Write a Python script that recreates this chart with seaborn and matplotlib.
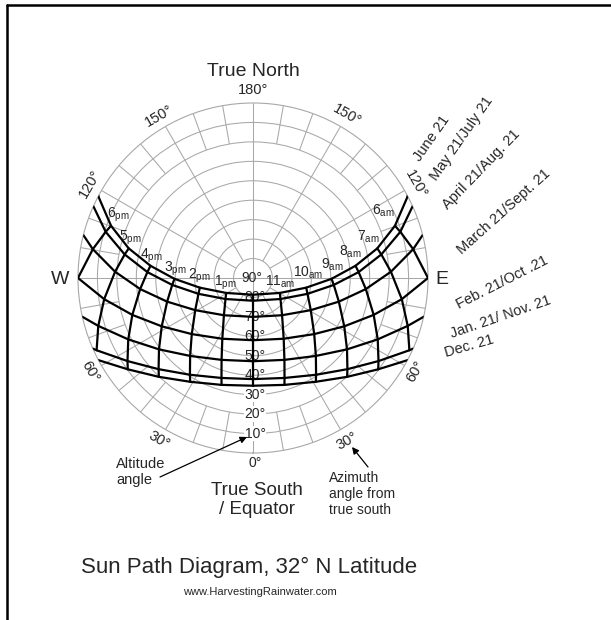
import matplotlib
matplotlib.use("Agg")
import matplotlib.pyplot as plt
from matplotlib.lines import Line2D
import numpy as np
import seaborn as sns

# Sun positions at 32 deg N latitude, solar time, morning half of each day.
# The afternoon is the mirror image on the west side.
# azimuth = degrees east of true south, altitude = degrees above horizon
hours = [12, 11, 10, 9, 8, 7, 6, 5]

date_labels = ["June 21", "May 21/July 21", "April 21/Aug. 21",
               "March 21/Sept. 21", "Feb. 21/Oct .21", "Jan. 21/ Nov. 21",
               "Dec. 21"]

nan = np.nan
az_jun = [0, 60.9, 79.7, 89.4, 96.8, 103.4, 110.2, 117.6]
alt_jun = [81.4, 74.2, 62.2, 49.6, 36.9, 24.3, 12.2, 0.5]
az_may = [0, 52.6, 73.8, 85.1, 93.2, 100.4, 107.4, nan]
alt_may = [78.3, 72.2, 60.8, 48.3, 35.6, 22.9, 10.6, nan]
az_apr = [0, 38.0, 60.9, 74.6, 84.4, 92.6, 100.2, nan]
alt_apr = [70.0, 65.7, 56.0, 44.2, 31.7, 19.0, 6.3, nan]
az_mar = [0, 26.8, 47.5, 62.1, 73.0, 81.9, 90.0, nan]
alt_mar = [58.0, 55.0, 47.3, 36.9, 25.1, 12.7, 0.0, nan]
az_feb = [0, 21.0, 38.9, 52.8, 63.8, 72.8, nan, nan]
alt_feb = [47.2, 44.9, 38.5, 29.3, 18.5, 6.7, nan, nan]
az_jan = [0, 17.5, 33.1, 46.0, 56.5, 65.2, nan, nan]
alt_jan = [38.0, 36.1, 30.6, 22.5, 12.6, 1.4, nan, nan]
az_dec = [0, 16.4, 31.2, 43.6, 53.9, nan, nan, nan]
alt_dec = [34.6, 32.7, 27.6, 19.8, 10.3, nan, nan, nan]

# sunrise azimuth (altitude 0) for each date
sunrise_az = [118.0, 114.2, 104.2, 90.0, 77.2, 66.2, 62.0]

alt_ticks = [90, 80, 70, 60, 50, 40, 30, 20, 10, 0]
az_ticks = [180, 150, 120, 60, 30]

W, H = 611, 620
GRAY = "#a8a8a8"

sns.set_style("white")
plt.rcParams["font.family"] = ["Liberation Sans", "DejaVu Sans"]
plt.rcParams["mathtext.fontset"] = "custom"
plt.rcParams["mathtext.rm"] = "Liberation Sans"
plt.rcParams["mathtext.it"] = "Liberation Sans:italic"
plt.rcParams["mathtext.bf"] = "Liberation Sans:bold"


def fpos(x, y):
    # pixel position (from top-left) -> figure fraction
    return x / W, 1 - y / H


fig = plt.figure(figsize=(W / 100, H / 100), dpi=100)
cx, cy, R = 253, 278, 175
ax = fig.add_axes([(cx - R) / W, (H - cy - R) / H, 2 * R / W, 2 * R / H],
                  projection="polar")
ax.set_theta_zero_location("S")
ax.set_theta_direction(1)

# grey altitude rings and azimuth spokes
ax.set_axisbelow(True)
ax.set_xticks([])
ax.set_yticks(range(10, 90, 10))
ax.set_yticklabels([])
ax.yaxis.grid(True, color=GRAY, lw=0.75)
ax.spines["polar"].set_color(GRAY)
ax.spines["polar"].set_linewidth(0.8)
spokes = np.arange(0, 360, 10)
r0 = np.where(spokes % 90 == 0, 0, np.where(spokes % 30 == 0, 10, 70))
ax.vlines(np.radians(spokes), r0, 90, color=GRAY, lw=0.75, zorder=1)

# sun path for each date, sunrise -> noon -> sunset
az_all = np.array([az_jun, az_may, az_apr, az_mar, az_feb, az_jan, az_dec])
alt_all = np.array([alt_jun, alt_may, alt_apr, alt_mar, alt_feb, alt_jan,
                    alt_dec])
for az, alt, rise in zip(az_all, alt_all, sunrise_az):
    ok = ~np.isnan(az)
    a_m = np.r_[rise, az[ok][::-1]]
    h_m = np.r_[0.0, alt[ok][::-1]]
    a = np.r_[a_m, -a_m[::-1][1:]]
    h = np.r_[h_m, h_m[::-1][1:]]
    sns.lineplot(x=np.radians(a), y=90 - h, sort=False, estimator=None,
                 color="black", lw=1.6, ax=ax, zorder=4)

# hour lines across the dates
for j in range(7):
    ok = ~np.isnan(az_all[:, j])
    for side in ((1, -1) if j else (1,)):
        sns.lineplot(x=np.radians(side * az_all[ok, j]), y=90 - alt_all[ok, j],
                     sort=False, estimator=None, color="black", lw=1.6,
                     ax=ax, zorder=4)

ax.set_ylim(0, 90)

# hour labels above the June 21 path (offsets in pixels, y down)
am_off = {11: (0, -11), 10: (2, -15), 9: (1, -14), 8: (-5, -14),
          7: (-9, -12), 6: (-12, -15)}
pm_off = {1: (-1, -10), 2: (0, -12), 3: (1, -10), 4: (1, -10),
          5: (2, -11), 6: (7, -11)}
for j in range(1, 7):
    hr = hours[j]
    dx, dy = am_off[hr]
    ax.annotate(f"{hr}" + r"$_{\mathrm{am}}$",
                xy=(np.radians(az_all[0, j]), 90 - alt_all[0, j]),
                xytext=(dx * 0.72, -dy * 0.72), textcoords="offset points",
                ha="center", va="center", fontsize=10, zorder=5)
    ph = 12 - hr
    dx, dy = pm_off[ph]
    ax.annotate(f"{ph}" + r"$_{\mathrm{pm}}$",
                xy=(np.radians(-az_all[0, j]), 90 - alt_all[0, j]),
                xytext=(dx * 0.72, -dy * 0.72), textcoords="offset points",
                ha="center", va="center", fontsize=10, zorder=5)

# altitude labels along the south spoke
for a in alt_ticks:
    box = dict(fc="white", ec="none", pad=0.5) if a <= 30 else None
    ax.annotate(f"{a}°", xy=(0, 90 - a),
                xytext=(-0.5 if a == 90 else 1.5, -7 if a == 0 else 0),
                textcoords="offset points", ha="center", va="center",
                fontsize=10, zorder=3, bbox=box, annotation_clip=False)

# azimuth labels round the rim
for d in az_ticks:
    for side in ((1, -1) if d != 180 else (1,)):
        t = side * d
        rot = t if abs(t) < 90 else t - 180 * np.sign(t)
        ax.text(np.radians(t), 96.5, f"{d}°", rotation=rot,
                rotation_mode="anchor", ha="center", va="center",
                fontsize=10.5, clip_on=False)

# date labels on the east side
date_pos = [(432, 138, 55), (462, 138, 55), (481, 170, 46), (504, 212, 42),
            (502, 283, 27), (501, 317, 19), (469, 346, 16)]
for lab, (x, y, rot) in zip(date_labels, date_pos):
    fig.text(*fpos(x, y), lab, rotation=rot, rotation_mode="anchor",
             ha="center", va="center", fontsize=10.5)

fig.text(*fpos(253, 72), "True North", ha="center", va="center", fontsize=14)
fig.text(*fpos(60, 280), "W", ha="center", va="center", fontsize=14)
fig.text(*fpos(442, 279), "E", ha="center", va="center", fontsize=14)
fig.text(*fpos(257, 500), "True South\n/ Equator", ha="center", va="center",
         fontsize=13.5, linespacing=1.15)
fig.text(*fpos(116, 472), "Altitude\nangle", ha="left", va="center",
         fontsize=10.5, linespacing=1.15)
fig.text(*fpos(329, 494), "Azimuth\nangle from\ntrue south", ha="left",
         va="center", fontsize=10, linespacing=1.2)
fig.text(*fpos(249, 567), "Sun Path Diagram, 32° N Latitude", ha="center",
         va="center", fontsize=16)
fig.text(*fpos(260, 592), "www.HarvestingRainwater.com", ha="center",
         va="center", fontsize=8)

arrow = dict(arrowstyle="-|>", color="black", lw=0.9, mutation_scale=10,
             shrinkA=0, shrinkB=0)
ax.annotate("", xy=fpos(247, 437), xycoords="figure fraction",
            xytext=fpos(160, 477), textcoords="figure fraction",
            arrowprops=arrow, annotation_clip=False)
ax.annotate("", xy=fpos(352, 447), xycoords="figure fraction",
            xytext=fpos(368, 467), textcoords="figure fraction",
            arrowprops=arrow, annotation_clip=False)

# page frame (top and left edges visible)
fig.add_artist(Line2D([7 / W, 1], [1 - 5 / H] * 2, transform=fig.transFigure,
                      color="black", lw=1.8))
fig.add_artist(Line2D([7 / W] * 2, [0, 1 - 5 / H], transform=fig.transFigure,
                      color="black", lw=1.8))

fig.savefig("out.png", dpi=100)
